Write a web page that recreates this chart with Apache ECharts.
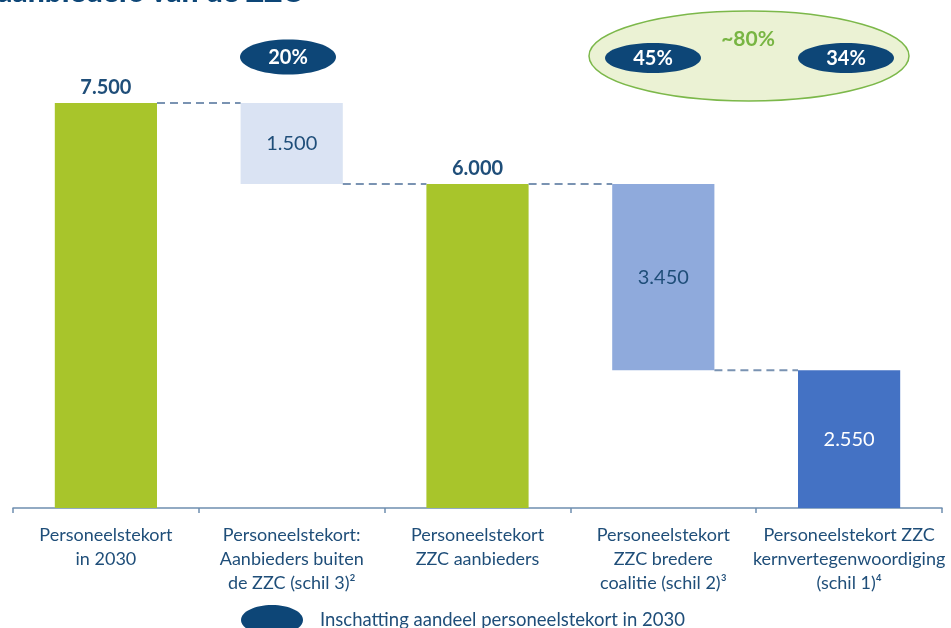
<!DOCTYPE html>
<html>
<head>
<meta charset="utf-8">
<script src="https://cdn.jsdelivr.net/npm/echarts@6/dist/echarts.min.js"></script>
<style>
  html, body { margin: 0; padding: 0; background: #ffffff; }
  #chart { width: 951px; height: 628px; }
</style>
</head>
<body>
<div id="chart"></div>
<script>
// Waterfall: personnel shortage in 2030, broken down by provider group
const categories = [
  'Personeelstekort\nin 2030',
  'Personeelstekort:\nAanbieders buiten\nde ZZC (schil 3)\u00B2',
  'Personeelstekort\nZZC aanbieders',
  'Personeelstekort\nZZC bredere\ncoalitie (schil 2)\u00B3',
  'Personeelstekort ZZC\nkernvertegenwoordiging\n(schil 1)\u2074'
];
// 'total' bars stand on zero, 'step' bars hang down from the running total
const kinds = ['total', 'step', 'total', 'step', 'step'];
const shortage = [7500, 1500, 6000, 3450, 2550];
const shareLabels = ['20%', '45%', '34%'];
const combinedShareLabel = '~80%';
const legendLabel = 'Inschatting aandeel personeelstekort in 2030';
const titleText = 'aanbieders van de ZZC';

const COLORS = ['#a8c52b', '#dae3f3', '#a8c52b', '#8faadc', '#4472c4'];
const NAVY = '#0d4677';
const TEXT = '#1f4e79';
const BAR_FRAC = 0.55;

// Running totals: each step bar sits below the previous level
const bases = [];
const tops = [];
let level = 0;
shortage.forEach((v, i) => {
  if (kinds[i] === 'total') {
    bases.push(0); tops.push(v); level = v;
  } else {
    bases.push(level - v); tops.push(level); level = level - v;
  }
});
// Dashed connectors run from each bar's resulting level to the next bar
const connectors = [];
for (let i = 0; i < shortage.length - 1; i++) {
  connectors.push([i, kinds[i] === 'total' ? tops[i] : bases[i]]);
}

const fmt = v => String(v).replace(/\B(?=(\d{3})+(?!\d))/g, '.');

const labelStyles = [
  { position: 'top', fontWeight: 'bold', fontSize: 20, color: TEXT, distance: 5 },
  { position: 'inside', fontSize: 20, color: TEXT },
  { position: 'top', fontWeight: 'bold', fontSize: 20, color: TEXT, distance: 5 },
  { position: 'inside', fontSize: 20, color: TEXT },
  { position: 'inside', fontSize: 20, color: '#ffffff' }
];

const chart = echarts.init(document.getElementById('chart'), null, { renderer: 'canvas' });

const FONT = 'Lato, "Open Sans", sans-serif';

chart.setOption({
  animation: false,
  textStyle: { fontFamily: FONT },
  grid: { left: 13, right: 9, top: 76, bottom: 120 },
  xAxis: {
    type: 'category',
    data: categories,
    axisLine: { lineStyle: { color: '#6f8fb0', width: 1.5 } },
    axisTick: { show: true, length: 5, lineStyle: { color: '#6f8fb0', width: 1.5 } },
    axisLabel: {
      interval: 0, color: TEXT, fontSize: 18, lineHeight: 24, margin: 15,
      fontFamily: FONT
    }
  },
  yAxis: { type: 'value', min: 0, max: 8000, show: false, splitLine: { show: false } },
  series: [
    {
      type: 'bar', stack: 'w', barWidth: (BAR_FRAC * 100) + '%',
      itemStyle: { color: 'transparent' },
      data: bases, silent: true
    },
    {
      type: 'bar', stack: 'w', barWidth: (BAR_FRAC * 100) + '%',
      data: shortage.map((v, i) => ({
        value: v,
        itemStyle: { color: COLORS[i] },
        label: Object.assign({ show: true, formatter: p => fmt(p.value), fontFamily: FONT }, labelStyles[i])
      }))
    },
    {
      type: 'custom',
      data: connectors,
      z: 5,
      renderItem: (params, api) => {
        const i = api.value(0);
        const lv = api.value(1);
        const a = api.coord([i, lv]);
        const b = api.coord([i + 1, lv]);
        const hw = api.size([1, 0])[0] * BAR_FRAC / 2;
        return {
          type: 'line',
          shape: { x1: a[0] + hw, y1: a[1], x2: b[0] - hw, y2: b[1] },
          style: { stroke: '#7a93b2', lineWidth: 2, lineDash: [8, 5] }
        };
      }
    }
  ],
  graphic: [
    {
      type: 'text', left: -3, top: -23,
      style: { text: titleText, fontSize: 30, fontWeight: 900, fill: NAVY, fontFamily: FONT }
    },
    // share of shell 3
    { type: 'ellipse', shape: { cx: 288, cy: 57, rx: 48, ry: 17.5 }, style: { fill: NAVY } },
    { type: 'text', x: 288, y: 58, style: { text: shareLabels[0], fill: '#ffffff', fontSize: 20, fontWeight: 'bold', align: 'center', verticalAlign: 'middle', fontFamily: FONT } },
    // combined share of shells 1 and 2
    { type: 'ellipse', shape: { cx: 749, cy: 56, rx: 160, ry: 45 }, style: { fill: '#ebf2d4', stroke: '#7cb84a', lineWidth: 1.5 } },
    { type: 'text', x: 748, y: 39, style: { text: combinedShareLabel, fill: '#78b543', fontSize: 21, fontWeight: 'bold', align: 'center', verticalAlign: 'middle', fontFamily: FONT } },
    { type: 'ellipse', shape: { cx: 653, cy: 58, rx: 48, ry: 15 }, style: { fill: NAVY } },
    { type: 'text', x: 653, y: 59, style: { text: shareLabels[1], fill: '#ffffff', fontSize: 20, fontWeight: 'bold', align: 'center', verticalAlign: 'middle', fontFamily: FONT } },
    { type: 'ellipse', shape: { cx: 846, cy: 58, rx: 48, ry: 15 }, style: { fill: NAVY } },
    { type: 'text', x: 846, y: 59, style: { text: shareLabels[2], fill: '#ffffff', fontSize: 20, fontWeight: 'bold', align: 'center', verticalAlign: 'middle', fontFamily: FONT } },
    // legend
    { type: 'ellipse', shape: { cx: 272, cy: 620, rx: 31, ry: 15 }, style: { fill: NAVY } },
    { type: 'text', x: 320, y: 620, style: { text: legendLabel, fill: TEXT, fontSize: 18.5, verticalAlign: 'middle', fontFamily: FONT } }
  ]
});
</script>
</body>
</html>
